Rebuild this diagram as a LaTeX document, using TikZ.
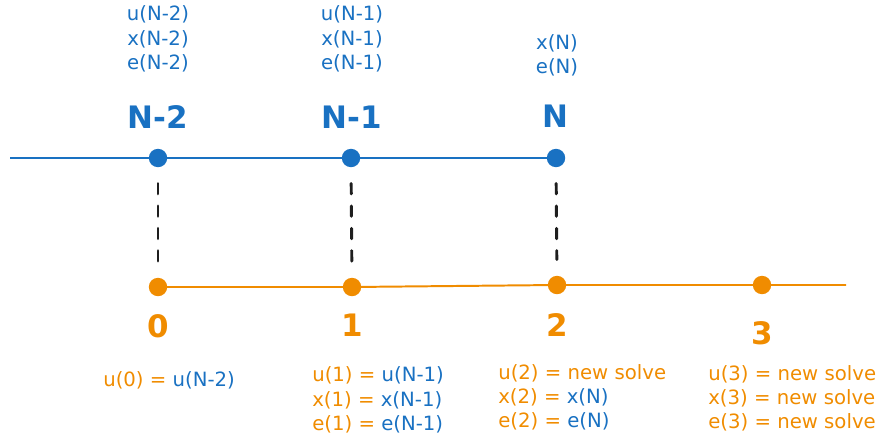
\documentclass[tikz,border=0pt]{standalone}
\usepackage{fontspec}
\setmainfont{DejaVu Sans}
\definecolor{stepBlue}{HTML}{1971C2}
\definecolor{stepOrange}{HTML}{F08C00}
\definecolor{stepInk}{HTML}{1E1E1E}
\usepackage{tikz}
\usetikzlibrary{positioning}
\newcommand{\bl}[1]{\textcolor{stepBlue}{#1}}

\begin{document}
\begin{tikzpicture}[x=0.025cm, y=-0.025cm,
    dot/.style={circle, inner sep=0pt, minimum size=0.46cm},
    olddot/.style={dot, fill=stepBlue},
    newdot/.style={dot, fill=stepOrange},
    idx/.style={font=\fontsize{22}{26}\selectfont\bfseries},
    vals/.style={font=\fontsize{14}{17.2}\selectfont, inner sep=0pt},
    link/.style={stepInk, line width=2.1pt, line cap=round,
                 dash pattern=on 0.26cm off 0.3cm,
                 shorten <=0.4cm, shorten >=0.4cm}
  ]
    \useasboundingbox (0,0) rectangle (879,440);

    % old horizon
    \node[olddot] (nA) at (158,158) {};
    \node[olddot] (nB) at (351,158) {};
    \node[olddot] (nC) at (556,158) {};
    \coordinate (bstart) at (10,158);
    \draw[stepBlue, line width=1.4pt] (bstart) -- (nA.center) -- (nB.center) -- (nC.center);

    \node[idx, text=stepBlue] (lA) at (158,117) {N-2};
    \node[idx, text=stepBlue] (lB) at (352,117) {N-1};
    \node[idx, text=stepBlue] (lC) at (555,116) {N};

    \node[vals, text=stepBlue, align=center] (tA) at (158,39) {u(N-2)\\x(N-2)\\e(N-2)};
    \node[vals, text=stepBlue, align=center] (tB) at (352,39) {u(N-1)\\x(N-1)\\e(N-1)};
    \node[vals, text=stepBlue, align=center] (tC) at (557,55) {x(N)\\e(N)};

    % new horizon
    \node[newdot] (o0) at (158,287) {};
    \node[newdot] (o1) at (352,287) {};
    \node[newdot] (o2) at (557,285) {};
    \node[newdot] (o3) at (762,285) {};
    \coordinate (oend) at (846,285);
    \draw[stepOrange, line width=1.4pt] (o0.center) -- (o1.center) -- (o2.center) -- (o3.center) -- (oend);

    \node[idx, text=stepOrange] (k0) at (158,326) {0};
    \node[idx, text=stepOrange] (k1) at (352,325) {1};
    \node[idx, text=stepOrange] (k2) at (557,325) {2};
    \node[idx, text=stepOrange] (k3) at (762,333) {3};

    \node[vals, text=stepOrange, align=left, anchor=west] (v0) at (103,380)
      {u(0) = \bl{u(N-2)}};
    \node[vals, text=stepOrange, align=left, anchor=west] (v1) at (312,400)
      {u(1) = \bl{u(N-1)}\\x(1) = \bl{x(N-1)}\\e(1) = \bl{e(N-1)}};
    \node[vals, text=stepOrange, align=left, anchor=west] (v2) at (498,397)
      {u(2) = new solve\\x(2) = \bl{x(N)}\\e(2) = \bl{e(N)}};
    \node[vals, text=stepOrange, align=left, anchor=west] (v3) at (708,398)
      {u(3) = new solve\\x(3) = new solve\\e(3) = new solve};

    % shifted indices
    \draw[link] (nA) -- (o0);
    \draw[link] (nB) -- (o1);
    \draw[link] (nC) -- (o2);
  \end{tikzpicture}
\end{document}
